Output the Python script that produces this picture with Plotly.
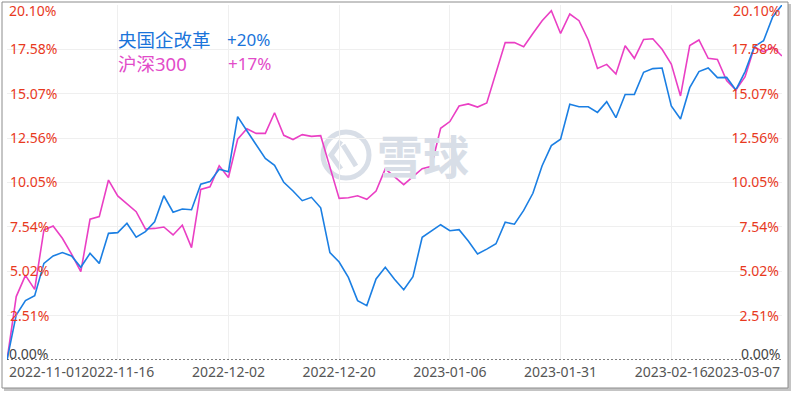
import plotly.graph_objects as go

# ---------------- data ----------------
x_idx = list(range(85))  # trading days 2022-11-01 .. 2023-03-07

soe_reform = [0.00, 2.55, 3.36, 3.64, 5.47, 5.89, 6.08, 5.89, 5.25, 6.04,
              5.47, 7.17, 7.21, 7.74, 6.95, 7.27, 7.83, 9.30, 8.37, 8.55,
              8.51, 9.95, 10.10, 10.80, 10.66, 13.78, 12.98, 12.21, 11.41, 11.02,
              10.06, 9.57, 9.02, 9.21, 8.62, 6.08, 5.55, 4.68, 3.36, 3.08,
              4.59, 5.25, 4.57, 3.98, 4.72, 6.95, 7.30, 7.66, 7.32, 7.38,
              6.74, 6.00, 6.28, 6.58, 7.80, 7.69, 8.47, 9.44, 11.00, 12.14,
              12.50, 14.48, 14.34, 14.34, 14.02, 14.63, 13.72, 15.03, 15.04, 16.29,
              16.50, 16.53, 14.38, 13.65, 15.42, 16.33, 16.53, 15.99, 16.00, 15.29,
              16.33, 17.74, 18.08, 19.44, 20.10]

csi300 = [0.00, 3.59, 4.79, 4.00, 7.36, 7.59, 6.89, 6.00, 5.00, 7.97,
          8.12, 10.19, 9.29, 8.87, 8.40, 7.42, 7.45, 7.53, 7.08, 7.63,
          6.36, 9.66, 9.81, 11.00, 10.33, 12.50, 13.09, 12.83, 12.83, 14.00,
          12.72, 12.48, 12.76, 12.66, 12.70, 10.92, 9.15, 9.19, 9.30, 9.10,
          9.57, 10.82, 10.38, 9.93, 10.38, 10.83, 10.97, 13.12, 13.50, 14.38,
          14.50, 14.32, 14.55, 16.27, 17.97, 17.97, 17.74, 18.49, 19.21, 19.78,
          18.49, 19.59, 19.21, 18.12, 16.51, 16.74, 16.19, 17.79, 17.08, 18.15,
          18.19, 17.59, 16.76, 14.95, 17.80, 18.12, 17.08, 17.02, 15.82, 15.29,
          16.04, 17.71, 17.46, 17.71, 17.21]

x_tick_idx = [12, 24, 36, 48, 60, 72]
x_tick_text = ["2022-11-16", "2022-12-02", "2022-12-20", "2023-01-06", "2023-01-31", "2023-02-16"]
x_first_label = "2022-11-01"
x_last_label = "2023-03-07"

y_tick_vals = [2.5125, 5.025, 7.5375, 10.05, 12.5625, 15.075, 17.5875]
y_tick_text = ["2.51%", "5.02%", "7.54%", "10.05%", "12.56%", "15.07%", "17.58%"]
y_min, y_max = 0.0, 20.10
y_min_label, y_max_label = "0.00%", "20.10%"

series_names = ["央国企改革", "沪深300"]
series_returns = ["+20%", "+17%"]

# ---------------- style ----------------
W, H = 800, 396
L, R, T, B = 7, 782, 5, 360          # plot area in px
BLUE = "#1b7fe3"
PINK = "#ea3fc4"
RED = "#e8391e"
FONT = "Noto Sans, Noto Sans CJK SC, sans-serif"


def px(xp):
    return (xp - L) / (R - L)


def py(yp):
    return (B - yp) / (B - T)


fig = go.Figure()
fig.add_trace(go.Scatter(x=x_idx, y=csi300, mode="lines", name=series_names[1],
                         line=dict(color=PINK, width=1.6), hoverinfo="skip"))
fig.add_trace(go.Scatter(x=x_idx, y=soe_reform, mode="lines", name=series_names[0],
                         line=dict(color=BLUE, width=1.6), hoverinfo="skip"))
# invisible trace to activate the right axis
fig.add_trace(go.Scatter(x=x_idx, y=soe_reform, mode="lines", yaxis="y2",
                         line=dict(color="rgba(0,0,0,0)", width=0), hoverinfo="skip",
                         showlegend=False))

shapes = []
# frame shadow and frame
shapes.append(dict(type="rect", xref="paper", yref="paper", layer="below",
                   x0=px(4), x1=px(791), y0=py(391), y1=py(4),
                   fillcolor="#c4c4c4", line=dict(width=0)))
shapes.append(dict(type="rect", xref="paper", yref="paper", layer="below",
                   x0=px(2), x1=px(788), y0=py(388), y1=py(2),
                   fillcolor="white", line=dict(color="#8c8c8c", width=1)))
# dotted baseline
shapes.append(dict(type="line", xref="paper", yref="y", x0=0, x1=1, y0=0, y1=0,
                   line=dict(color="#555555", width=1.5, dash="2px,2px")))
# watermark logo
WM = "#d8dee7"
shapes.append(dict(type="circle", xref="paper", yref="paper", layer="below",
                   x0=px(323), x1=px(369), y0=py(178), y1=py(132),
                   line=dict(color=WM, width=5)))
shapes.append(dict(type="path", xref="paper", yref="paper", layer="below",
                   path="M {:.5f} {:.5f} L {:.5f} {:.5f} L {:.5f} {:.5f}".format(
                       px(341), py(141), px(331), py(155), px(341), py(169)),
                   line=dict(color=WM, width=5)))
shapes.append(dict(type="path", xref="paper", yref="paper", layer="below",
                   path="M {:.5f} {:.5f} L {:.5f} {:.5f}".format(
                       px(343), py(145), px(356), py(166)),
                   line=dict(color=WM, width=5)))

annotations = []
annotations.append(dict(text="<b>雪球</b>", xref="paper", yref="paper", x=px(423), y=py(156),
                        xanchor="center", yanchor="middle", showarrow=False,
                        font=dict(size=46, color=WM, family=FONT)))
# legend-like labels
annotations += [
    dict(text=series_names[0], x=px(116), y=py(40), font=dict(size=18.5, color="#1a74da", family=FONT)),
    dict(text=series_returns[0], x=px(225), y=py(40), font=dict(size=17, color="#1a74da", family=FONT)),
    dict(text=series_names[1], x=px(116), y=py(63), font=dict(size=18.5, color="#e24bc9", family=FONT)),
    dict(text=series_returns[1], x=px(226), y=py(63), font=dict(size=17, color="#e24bc9", family=FONT)),
]
for a in annotations[-4:]:
    a.update(xref="paper", yref="paper", xanchor="left", yanchor="middle", showarrow=False)
# edge y labels
for xv, anc in ((px(7), "left"), (px(782), "right")):
    annotations.append(dict(text=y_max_label, xref="paper", yref="paper", x=xv, y=py(11),
                            xanchor=anc, yanchor="middle", showarrow=False,
                            font=dict(size=14, color=RED, family=FONT)))
    annotations.append(dict(text=y_min_label, xref="paper", yref="paper", x=xv, y=py(353),
                            xanchor=anc, yanchor="middle", showarrow=False,
                            font=dict(size=14, color="#444444", family=FONT)))
# edge x labels
annotations.append(dict(text=x_first_label, xref="x", yref="paper", x=x_idx[0], y=py(371),
                        xanchor="left", yanchor="middle", showarrow=False,
                        font=dict(size=14, color="#555555", family=FONT)))
annotations.append(dict(text=x_last_label, xref="x", yref="paper", x=x_idx[-1], y=py(371),
                        xanchor="right", yanchor="middle", showarrow=False,
                        font=dict(size=14, color="#555555", family=FONT)))

fig.update_layout(
    width=W, height=H, autosize=False,
    margin=dict(l=L, r=W - R, t=T, b=H - B),
    paper_bgcolor="white", plot_bgcolor="rgba(0,0,0,0)",
    showlegend=False,
    font=dict(family=FONT),
    xaxis=dict(range=[x_idx[0], x_idx[-1]], tickvals=x_tick_idx, ticktext=x_tick_text,
               showgrid=True, gridcolor="#efefef", gridwidth=1, zeroline=False,
               showline=False, ticks="", tickfont=dict(size=14, color="#555555"),
               ticklabelstandoff=2),
    yaxis=dict(range=[y_min, y_max], tickvals=y_tick_vals, ticktext=y_tick_text,
               ticklabelposition="inside", showgrid=True, gridcolor="#efefef", gridwidth=1,
               zeroline=False, showline=False, ticks="",
               tickfont=dict(size=14, color=RED)),
    yaxis2=dict(range=[y_min, y_max], tickvals=y_tick_vals, ticktext=y_tick_text,
                overlaying="y", side="right", ticklabelposition="inside",
                showgrid=False, zeroline=False, showline=False, ticks="",
                tickfont=dict(size=14, color=RED)),
    shapes=shapes,
    annotations=annotations,
)

fig.write_html("out.html", config={"displayModeBar": False},
               post_script="document.body.style.margin='0px';document.body.style.overflow='hidden';")
